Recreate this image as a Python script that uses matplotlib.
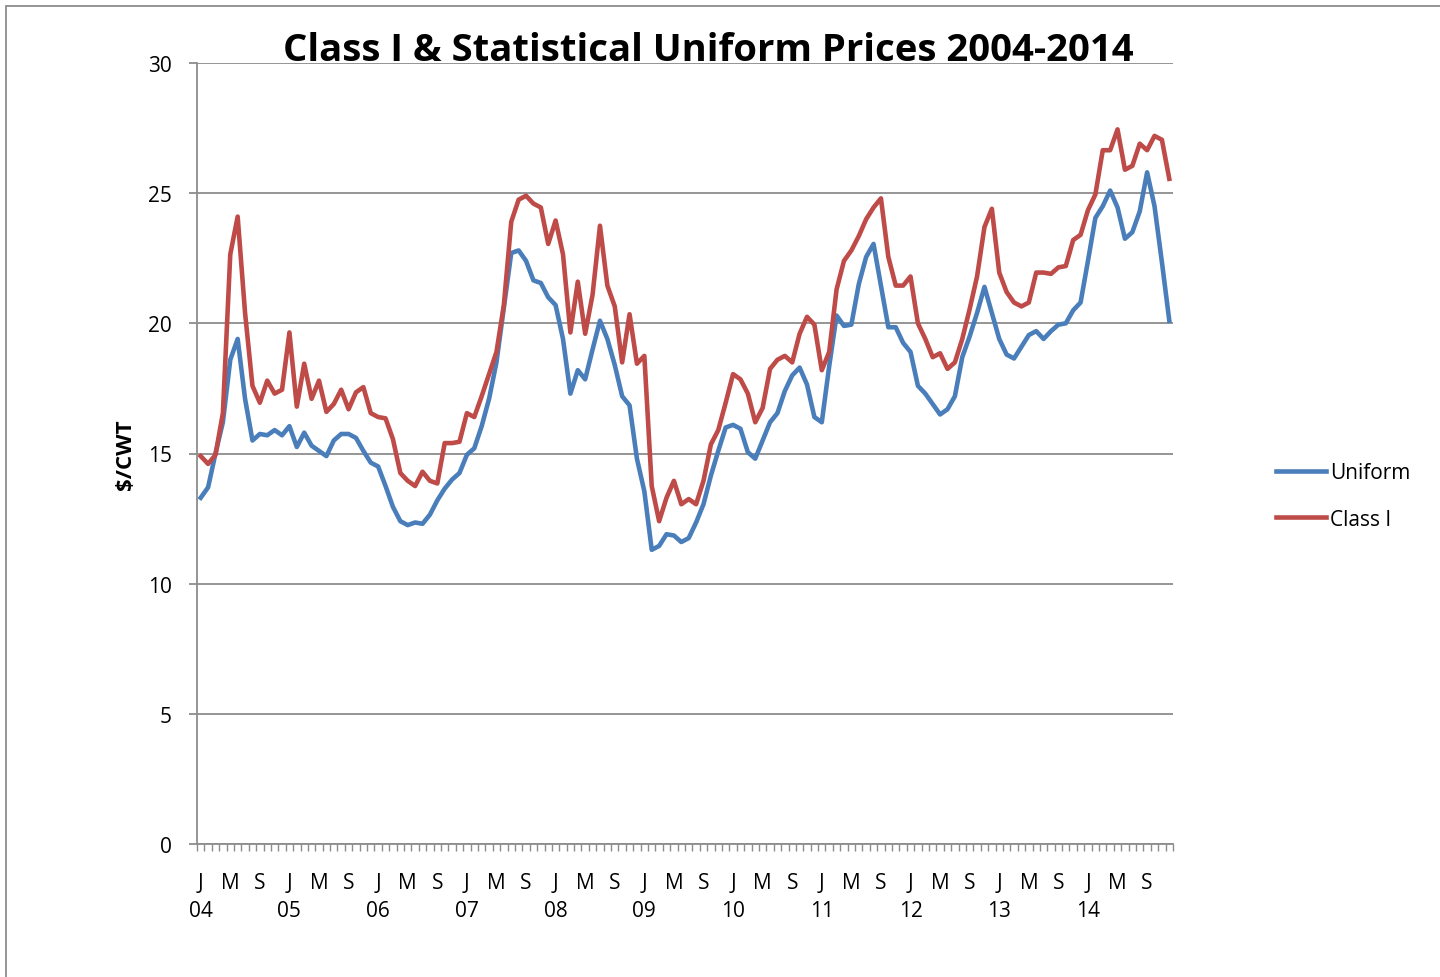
import matplotlib
matplotlib.use("Agg")
import matplotlib.pyplot as plt
from matplotlib.patches import Rectangle
import numpy as np

plt.rcParams['font.family'] = ['Open Sans', 'DejaVu Sans']

title = "Class I & Statistical Uniform Prices 2004-2014"
ylabel = "$/CWT"
series_names = ["Uniform", "Class I"]
years = ["04", "05", "06", "07", "08", "09", "10", "11", "12", "13", "14"]
month_letters = ["J", "M", "S"]

uniform = [
    13.3, 13.7, 15.0, 16.2, 18.6, 19.4, 17.1, 15.5, 15.75, 15.7, 15.9, 15.7,
    16.05, 15.25, 15.8, 15.3, 15.1, 14.9, 15.5, 15.75, 15.75, 15.6, 15.1, 14.65,
    14.5, 13.75, 12.95, 12.4, 12.25, 12.35, 12.3, 12.65, 13.2, 13.65, 14.0, 14.25,
    14.95, 15.2, 16.05, 17.1, 18.5, 20.6, 22.7, 22.8, 22.4, 21.65, 21.55, 21.0,
    20.7, 19.4, 17.3, 18.2, 17.85, 19.0, 20.1, 19.4, 18.4, 17.2, 16.85, 14.8,
    13.55, 11.3, 11.45, 11.9, 11.85, 11.6, 11.75, 12.35, 13.05, 14.15, 15.1, 16.0,
    16.1, 15.95, 15.05, 14.8, 15.5, 16.2, 16.55, 17.4, 18.0, 18.3, 17.65, 16.4,
    16.2, 18.35, 20.3, 19.9, 19.95, 21.5, 22.55, 23.05, 21.45, 19.85, 19.85, 19.25,
    18.9, 17.6, 17.3, 16.9, 16.5, 16.7, 17.2, 18.7, 19.5, 20.4, 21.4, 20.4,
    19.4, 18.8, 18.65, 19.1, 19.55, 19.7, 19.4, 19.7, 19.95, 20.0, 20.5, 20.8,
    22.4, 24.05, 24.5, 25.1, 24.45, 23.25, 23.5, 24.3, 25.8, 24.5, 22.35, 20.1,
]

class_i = [
    14.9, 14.6, 14.95, 16.55, 22.65, 24.1, 20.4, 17.6, 16.95, 17.8, 17.3, 17.45,
    19.65, 16.8, 18.45, 17.1, 17.8, 16.6, 16.9, 17.45, 16.7, 17.35, 17.55, 16.55,
    16.4, 16.35, 15.55, 14.25, 13.95, 13.75, 14.3, 13.95, 13.85, 15.4, 15.4, 15.45,
    16.55, 16.4, 17.2, 18.05, 18.9, 20.7, 23.9, 24.75, 24.9, 24.6, 24.45, 23.05,
    23.95, 22.65, 19.65, 21.6, 19.6, 21.1, 23.75, 21.45, 20.65, 18.5, 20.35, 18.45,
    18.75, 13.75, 12.4, 13.3, 13.95, 13.05, 13.25, 13.05, 13.95, 15.35, 15.9, 16.95,
    18.05, 17.85, 17.3, 16.2, 16.75, 18.25, 18.6, 18.75, 18.5, 19.6, 20.25, 19.95,
    18.2, 18.9, 21.3, 22.4, 22.8, 23.35, 24.0, 24.45, 24.8, 22.55, 21.45, 21.45,
    21.8, 20.0, 19.4, 18.7, 18.85, 18.25, 18.5, 19.4, 20.55, 21.8, 23.7, 24.4,
    21.95, 21.2, 20.8, 20.65, 20.8, 21.95, 21.95, 21.9, 22.15, 22.2, 23.2, 23.4,
    24.35, 24.95, 26.65, 26.65, 27.45, 25.9, 26.05, 26.9, 26.65, 27.2, 27.05, 25.55,
]

W, H = 1440, 978
fig = plt.figure(figsize=(W / 100, H / 100), dpi=100)
fig.patch.set_facecolor("white")

# chart-area border (only top/left visible in the crop)
fig.add_artist(Rectangle((6 / W, -0.05), 1.2, 1 - 7 / H + 0.05, transform=fig.transFigure,
                         fill=False, edgecolor="#8c8c8c", linewidth=1.3))

left, right, top, bottom = 197, 1173, 64, 845
ax = fig.add_axes([left / W, 1 - bottom / H, (right - left) / W, (bottom - top) / H])

n = len(uniform)
x = np.arange(n) + 0.5
blue = "#4A7EBB"
red = "#BE4B48"
ax.plot(x, uniform, color=blue, lw=3.3, label=series_names[0], solid_joinstyle="round")
ax.plot(x, class_i, color=red, lw=3.3, label=series_names[1], solid_joinstyle="round")

ax.set_xlim(0, n)
ax.set_ylim(0, 30)
ax.set_yticks(np.arange(0, 31, 5))
ax.yaxis.grid(True, color="#8c8c8c", lw=1.3)
ax.set_axisbelow(True)
for s in ["top", "right"]:
    ax.spines[s].set_visible(False)
for s in ["left", "bottom"]:
    ax.spines[s].set_color("#8c8c8c")
    ax.spines[s].set_linewidth(1.3)

ax.tick_params(axis="y", direction="out", length=6, width=1.3, color="#8c8c8c",
               pad=12, labelsize=15)

# x: minor ticks at month boundaries, labels at category centres
ax.set_xticks(np.arange(0, n + 1), minor=True)
pos = np.arange(0, n, 4) + 0.5
labels = []
for k in range(len(pos)):
    letter = month_letters[k % 3]
    if k % 3 == 0:
        labels.append(letter + "\n" + years[k // 3])
    else:
        labels.append(letter)
ax.set_xticks(pos)
ax.set_xticklabels(labels, fontsize=15, linespacing=1.45, va="top")
ax.tick_params(axis="x", which="major", length=0, pad=20)
ax.tick_params(axis="x", which="minor", direction="out", length=5, width=1.0, color="#8c8c8c")

fig.text(708 / W, 1 - 51 / H, title, ha="center", va="center", fontsize=27.5, fontweight="bold")
fig.text(125 / W, 1 - 455 / H, ylabel, ha="center", va="center", rotation=90,
         fontsize=16, fontweight="bold")

leg = ax.legend(loc="center left", bbox_to_anchor=(1257 / W, 1 - 497 / H),
                bbox_transform=fig.transFigure, frameon=False, fontsize=15,
                handlelength=2.4, handletextpad=0.2, labelspacing=1.2)

fig.savefig("out.png", dpi=100, facecolor="white")
